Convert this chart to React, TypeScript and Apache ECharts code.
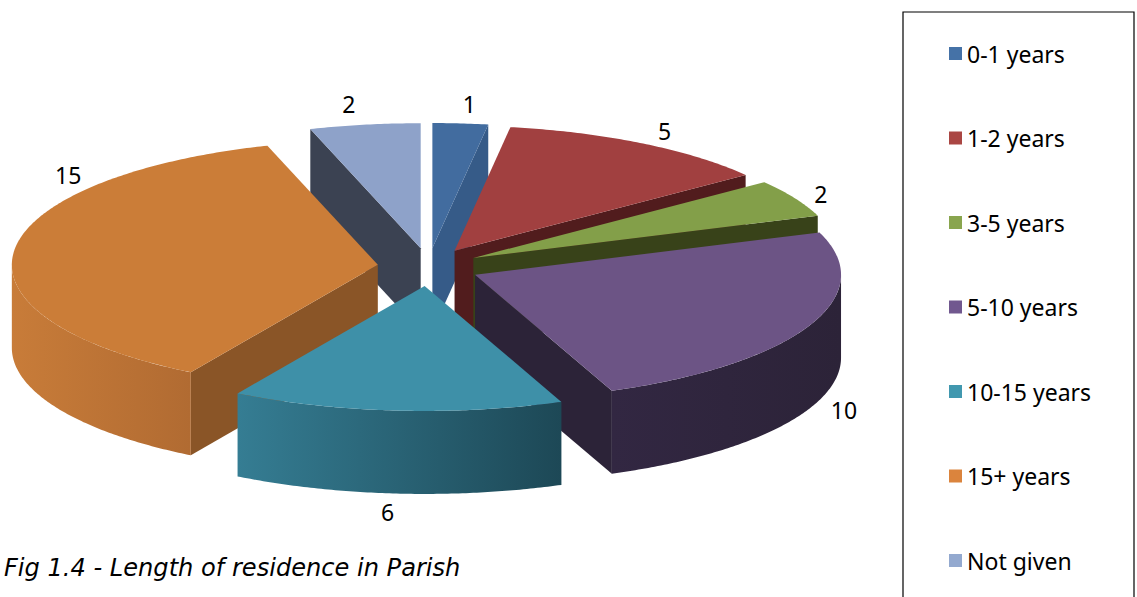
import React, { useEffect, useRef } from "react";
import * as echarts from "echarts";

const categories = ["0-1 years", "1-2 years", "3-5 years", "5-10 years", "10-15 years", "15+ years", "Not given"];
const values = [1, 5, 2, 10, 6, 15, 2];
const topColors = ["#426c9f", "#a14040", "#839f49", "#6c5485", "#3e90a8", "#cb7d38", "#8ea2c9"];
const wallColors = ["#365b88", "#511c1d", "#384219", "#2c2338", "#2c6478", "#8a5527", "#3b4252"];
const rimStops = [
  ["#3f6490", "#3f6490"],
  ["#6e2b2b", "#6e2b2b"],
  ["#5a6e30", "#5a6e30"],
  ["#322742", "#2c2338"],
  ["#357d93", "#1d4856"],
  ["#c87c39", "#b16b32"],
  ["#6070a0", "#6070a0"],
];
const legendColors = ["#4572a7", "#aa4643", "#89a54e", "#71588f", "#4198af", "#db843d", "#93a9cf"];
const labelNudges = [[9, -19], [23, -12], [26, -4], [35, 84], [-9, 101], [54, -75], [-16, -21]];
const drawOrder = [0, 6, 1, 5, 2, 3, 4];
const caption = "Fig 1.4 - Length of residence in Parish";

const FONT = '"Noto Sans", sans-serif';
const CX = 428.5, CY = 267, RX = 366, RY = 125, EX = 51, EY = 19, H = 83;
const total = values.reduce((a, b) => a + b, 0);
const rad = (v: number) => (v / total) * Math.PI * 2;

function buildSlice(i: number) {
  const before = values.slice(0, i).reduce((a, b) => a + b, 0);
  const a0 = rad(before);
  const a1 = rad(before + values[i]);
  const mid = (a0 + a1) / 2;
  const tx = CX + Math.sin(mid) * EX;
  const ty = CY - Math.cos(mid) * EY;
  const pt = (a: number, z = 0): [number, number] => [tx + Math.sin(a) * RX, ty - Math.cos(a) * RY + z];
  const arc = (s: number, e: number, z = 0) => {
    const n = Math.max(2, Math.ceil(Math.abs(e - s) / 0.01));
    const out: [number, number][] = [];
    for (let k = 0; k <= n; k++) out.push(pt(s + ((e - s) * k) / n, z));
    return out;
  };
  const children: any[] = [];
  const flat = { stroke: null };
  if (Math.sin(a1) > 0.001) {
    const [x, y] = pt(a1);
    children.push({ type: "polygon", shape: { points: [[tx, ty], [x, y], [x, y + H], [tx, ty + H]] }, style: { fill: wallColors[i], ...flat } });
  }
  if (Math.sin(a0) < -0.001) {
    const [x, y] = pt(a0);
    children.push({ type: "polygon", shape: { points: [[tx, ty], [x, y], [x, y + H], [tx, ty + H]] }, style: { fill: wallColors[i], ...flat } });
  }
  const rs = Math.max(a0, Math.PI / 2);
  const re = Math.min(a1, (Math.PI * 3) / 2);
  if (re > rs) {
    const top = arc(rs, re);
    const bot = arc(re, rs, H);
    children.push({
      type: "polygon",
      shape: { points: [...top, ...bot] },
      style: {
        fill: new echarts.graphic.LinearGradient(0, 0, 1, 0, [
          { offset: 0, color: rimStops[i][0] },
          { offset: 1, color: rimStops[i][1] },
        ]),
        ...flat,
      },
    });
  }
  children.push({ type: "polygon", shape: { points: [[tx, ty], ...arc(a0, a1)] }, style: { fill: topColors[i], ...flat } });
  children.push({
    type: "text",
    style: {
      text: String(values[i]),
      x: CX + Math.sin(mid) * (RX + EX) + labelNudges[i][0],
      y: CY - Math.cos(mid) * (RY + EY) + labelNudges[i][1],
      fill: "#000",
      font: `23px ${FONT}`,
      align: "center",
      verticalAlign: "middle",
    },
  });
  return { type: "group", children };
}

export default function App() {
  const ref = useRef<HTMLDivElement>(null);
  useEffect(() => {
    const chart = echarts.init(ref.current!, undefined, { renderer: "svg" });
    chart.setOption({
      animation: false,
      backgroundColor: "#fff",
      title: {
        text: caption,
        left: 4,
        top: 556,
        padding: 0,
        textStyle: { fontFamily: '"DejaVu Sans", sans-serif', fontStyle: "italic", fontWeight: "normal", fontSize: 24.1, color: "#000" },
      },
      graphic: [
        { type: "rect", shape: { x: 903, y: 12, width: 231, height: 620 }, style: { fill: "#fff", stroke: "#000", lineWidth: 1.2 }, z: 0 },
      ],
      legend: {
        orient: "vertical",
        left: 949,
        top: 42,
        padding: 0,
        icon: "rect",
        itemWidth: 13,
        itemHeight: 13,
        itemGap: 61.5,
        selectedMode: false,
        z: 5,
        textStyle: { fontFamily: FONT, fontSize: 23, color: "#000" },
        data: categories.map((name, i) => ({ name, itemStyle: { color: legendColors[i] } })),
      },
      series: drawOrder.map((i) => ({
        type: "custom",
        name: categories[i],
        coordinateSystem: "none",
        itemStyle: { color: legendColors[i] },
        data: [[values[i]]],
        renderItem: () => buildSlice(i),
      })),
    });
    return () => chart.dispose();
  }, []);
  return <div ref={ref} style={{ position: "fixed", left: 0, top: 0, width: 1137, height: 597 }} />;
}
